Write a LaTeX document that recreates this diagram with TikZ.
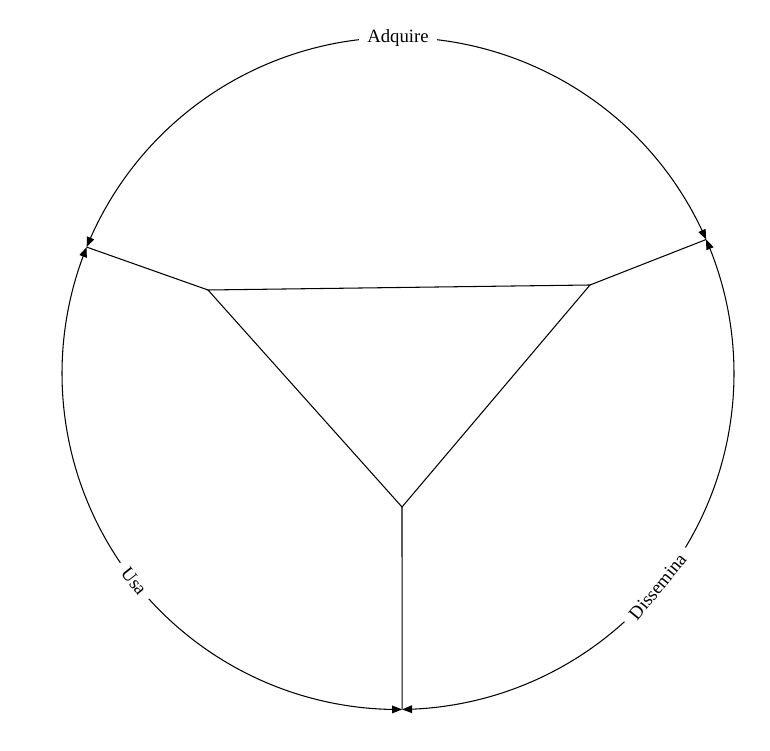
\documentclass[tikz,border=0pt]{standalone}
\usepackage{fontspec}
\setmainfont{Liberation Serif}
\usepackage{tikz}
\usetikzlibrary{arrows.meta, calc, bending}
\tikzstyle{cycle} = [line width=0.9pt, {Triangle[length=3mm,width=2.3mm,flex]}-{Triangle[length=3mm,width=2.3mm,flex]}]
\tikzstyle{link}  = [line width=0.9pt]
\tikzstyle{phase} = [fill=white, inner xsep=0.25cm, inner ysep=0.02cm, font=\fontsize{16}{19}\selectfont]

\begin{document}
\begin{tikzpicture}[x=0.03cm, y=0.03cm]
    \useasboundingbox (0,0) rectangle (770,751);
    \coordinate (c) at (398,377.5);
    % junctions on the circle
    \coordinate (jl) at ($(c)+(157.9:336)$);
    \coordinate (jr) at ($(c)+(23.5:336)$);
    \coordinate (jb) at ($(c)+(270.7:336)$);
    % inner triangle
    \coordinate (tl) at (208,461);
    \coordinate (tr) at (590,466);
    \coordinate (tb) at (402,244);

    \draw[cycle] (jr) arc[start angle=23.5, end angle=157.9, radius=10.08cm];
    \draw[cycle] (jl) arc[start angle=157.9, end angle=270.7, radius=10.08cm];
    \draw[cycle] (jb) arc[start angle=270.7, end angle=383.5, radius=10.08cm];

    \draw[link] (tl) -- (tr) -- (tb) -- cycle;
    \draw[link] (tl) -- (jl);
    \draw[link] (tr) -- (jr);
    \draw[link] (tb) -- (jb);

    \node (adquire) [phase] at ($(c)+(90:336)$) {Adquire};
    \node (usa) [phase, rotate=-51.8] at ($(c)+(218.2:336)$) {Usa};
    \node (dissemina) [phase, rotate=50.6] at ($(c)+(320.6:336)$) {Dissemina};
\end{tikzpicture}
\end{document}
